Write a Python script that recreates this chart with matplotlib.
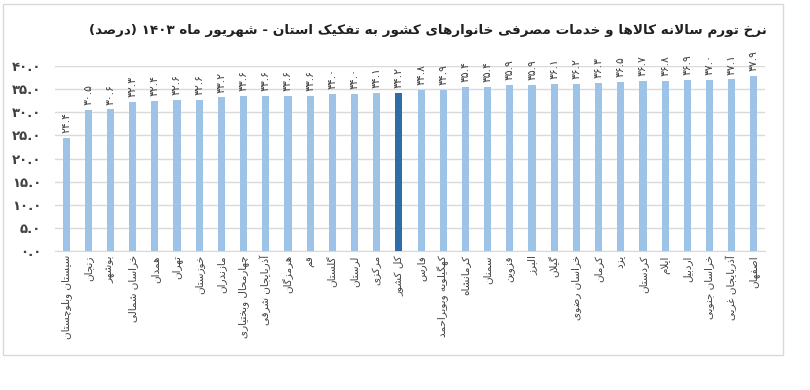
import re
import matplotlib
matplotlib.use("Agg")
import matplotlib.pyplot as plt
from matplotlib.patches import Rectangle

plt.rcParams['font.family'] = ['DejaVu Sans']

categories = ["سیستان وبلوچستان", "زنجان", "بوشهر", "خراسان شمالی", "همدان", "تهران",
              "خوزستان", "مازندران", "چهارمحال وبختیاری", "آذربایجان شرقی", "هرمزگان", "قم",
              "گلستان", "لرستان", "مرکزی", "کل کشور", "فارس", "کهگیلویه وبویراحمد",
              "کرمانشاه", "سمنان", "قزوین", "البرز", "گیلان", "خراسان رضوی", "کرمان",
              "یزد", "کردستان", "ایلام", "اردبیل", "خراسان جنوبی", "آذربایجان غربی", "اصفهان"]
values = [24.4, 30.5, 30.6, 32.3, 32.4, 32.6, 32.6, 33.2, 33.6, 33.6, 33.6, 33.6,
          34.0, 34.0, 34.1, 34.2, 34.8, 34.9, 35.4, 35.4, 35.9, 35.9, 36.1, 36.2, 36.3,
          36.5, 36.7, 36.8, 36.9, 37.0, 37.1, 37.9]
highlight = "کل کشور"
yticks = [0, 5, 10, 15, 20, 25, 30, 35, 40]
title = "نرخ تورم سالانه کالاها و خدمات مصرفی خانوارهای کشور به تفکیک استان - شهریور ماه ۱۴۰۳ (درصد)"

# ---- minimal Arabic/Persian shaping (matplotlib has no complex text layout) ----
FORMS = {
    'ا': (0xFE8D, 0xFE8E, None, None), 'آ': (0xFE81, 0xFE82, None, None),
    'ب': (0xFE8F, 0xFE90, 0xFE91, 0xFE92), 'پ': (0xFB56, 0xFB57, 0xFB58, 0xFB59),
    'ت': (0xFE95, 0xFE96, 0xFE97, 0xFE98), 'ث': (0xFE99, 0xFE9A, 0xFE9B, 0xFE9C),
    'ج': (0xFE9D, 0xFE9E, 0xFE9F, 0xFEA0), 'چ': (0xFB7A, 0xFB7B, 0xFB7C, 0xFB7D),
    'ح': (0xFEA1, 0xFEA2, 0xFEA3, 0xFEA4), 'خ': (0xFEA5, 0xFEA6, 0xFEA7, 0xFEA8),
    'د': (0xFEA9, 0xFEAA, None, None), 'ذ': (0xFEAB, 0xFEAC, None, None),
    'ر': (0xFEAD, 0xFEAE, None, None), 'ز': (0xFEAF, 0xFEB0, None, None),
    'ژ': (0xFB8A, 0xFB8B, None, None),
    'س': (0xFEB1, 0xFEB2, 0xFEB3, 0xFEB4), 'ش': (0xFEB5, 0xFEB6, 0xFEB7, 0xFEB8),
    'ص': (0xFEB9, 0xFEBA, 0xFEBB, 0xFEBC), 'ض': (0xFEBD, 0xFEBE, 0xFEBF, 0xFEC0),
    'ط': (0xFEC1, 0xFEC2, 0xFEC3, 0xFEC4), 'ظ': (0xFEC5, 0xFEC6, 0xFEC7, 0xFEC8),
    'ع': (0xFEC9, 0xFECA, 0xFECB, 0xFECC), 'غ': (0xFECD, 0xFECE, 0xFECF, 0xFED0),
    'ف': (0xFED1, 0xFED2, 0xFED3, 0xFED4), 'ق': (0xFED5, 0xFED6, 0xFED7, 0xFED8),
    'ک': (0xFB8E, 0xFB8F, 0xFB90, 0xFB91), 'گ': (0xFB92, 0xFB93, 0xFB94, 0xFB95),
    'ل': (0xFEDD, 0xFEDE, 0xFEDF, 0xFEE0), 'م': (0xFEE1, 0xFEE2, 0xFEE3, 0xFEE4),
    'ن': (0xFEE5, 0xFEE6, 0xFEE7, 0xFEE8), 'ه': (0xFEE9, 0xFEEA, 0xFEEB, 0xFEEC),
    'و': (0xFEED, 0xFEEE, None, None), 'ی': (0xFBFC, 0xFBFD, 0xFBFE, 0xFBFF),
}


def shape(s):
    toks = []
    i = 0
    while i < len(s):
        c = s[i]
        if c == 'ل' and i + 1 < len(s) and s[i + 1] in 'اآ':
            toks.append('LA' if s[i + 1] == 'ا' else 'LAA')
            i += 2
        else:
            toks.append(c)
            i += 1

    def dual(t):
        return t in FORMS and FORMS[t][2] is not None

    def joins(t):
        return t in FORMS or t in ('LA', 'LAA')

    res = []
    for k, t in enumerate(toks):
        prev = toks[k - 1] if k > 0 else None
        nxt = toks[k + 1] if k + 1 < len(toks) else None
        cp = prev is not None and dual(prev) and joins(t)
        if t in ('LA', 'LAA'):
            f = (0xFEFB, 0xFEFC) if t == 'LA' else (0xFEF5, 0xFEF6)
            res.append(chr(f[1] if cp else f[0]))
            continue
        if t not in FORMS:
            res.append(t)
            continue
        cn = dual(t) and nxt is not None and joins(nxt)
        iso, fin, ini, med = FORMS[t]
        g = med if (cp and cn) else fin if cp else ini if cn else iso
        res.append(chr(g))
    return ''.join(res)


def visual(s):
    r = shape(s)[::-1]
    r = re.sub(r'[0-9\u06F0-\u06F9][0-9\u06F0-\u06F9.]*', lambda m: m.group(0)[::-1], r)
    return r.translate(str.maketrans('()', ')('))


FA = str.maketrans('0123456789', '۰۱۲۳۴۵۶۷۸۹')


def fa_num(v):
    return f"{v:.1f}".translate(FA)


W, H = 810, 390
fig = plt.figure(figsize=(W / 100, H / 100), dpi=100)
fig.patch.set_facecolor('white')
fig.add_artist(Rectangle((3 / W, 1 - 355 / H), 780 / W, 351 / H, transform=fig.transFigure,
                         facecolor='none', edgecolor='#D9D9D9', linewidth=1.0))

ax = fig.add_axes([55 / W, 1 - 251 / H, 710 / W, 185 / H])
x = list(range(len(categories)))
colors = ['#2E6DA8' if c == highlight else '#9DC3E6' for c in categories]
bars = ax.bar(x, values, width=0.32, color=colors, zorder=3)

ax.set_xlim(-0.5, len(categories) - 0.5)
ax.set_ylim(0, 40)
ax.set_yticks(yticks)
ax.set_yticklabels([fa_num(t) for t in yticks], fontsize=9.5, fontweight='bold', color='#404040')
ax.yaxis.grid(True, color='#D9D9D9', linewidth=1.0, zorder=0)
ax.tick_params(axis='y', length=0, pad=10)
ax.tick_params(axis='x', length=0, pad=3)
for s in ['top', 'right', 'left']:
    ax.spines[s].set_visible(False)
ax.spines['bottom'].set_color('#D9D9D9')
ax.set_xticks(x)
ax.set_xticklabels([visual(c) for c in categories], rotation=90, fontsize=7.5,
                   color='#404040', va='top', ha='center')

for xi, v in zip(x, values):
    ax.annotate(fa_num(v), (xi, v), xytext=(0, 3.5), textcoords='offset points',
                rotation=90, ha='center', va='bottom', fontsize=7.8, color='#404040')

fig.text(767 / W, 1 - 30 / H, visual(title), ha='right', va='center', fontsize=9.7,
         fontweight='bold', color='#202020')

fig.savefig('out.png', dpi=100)
